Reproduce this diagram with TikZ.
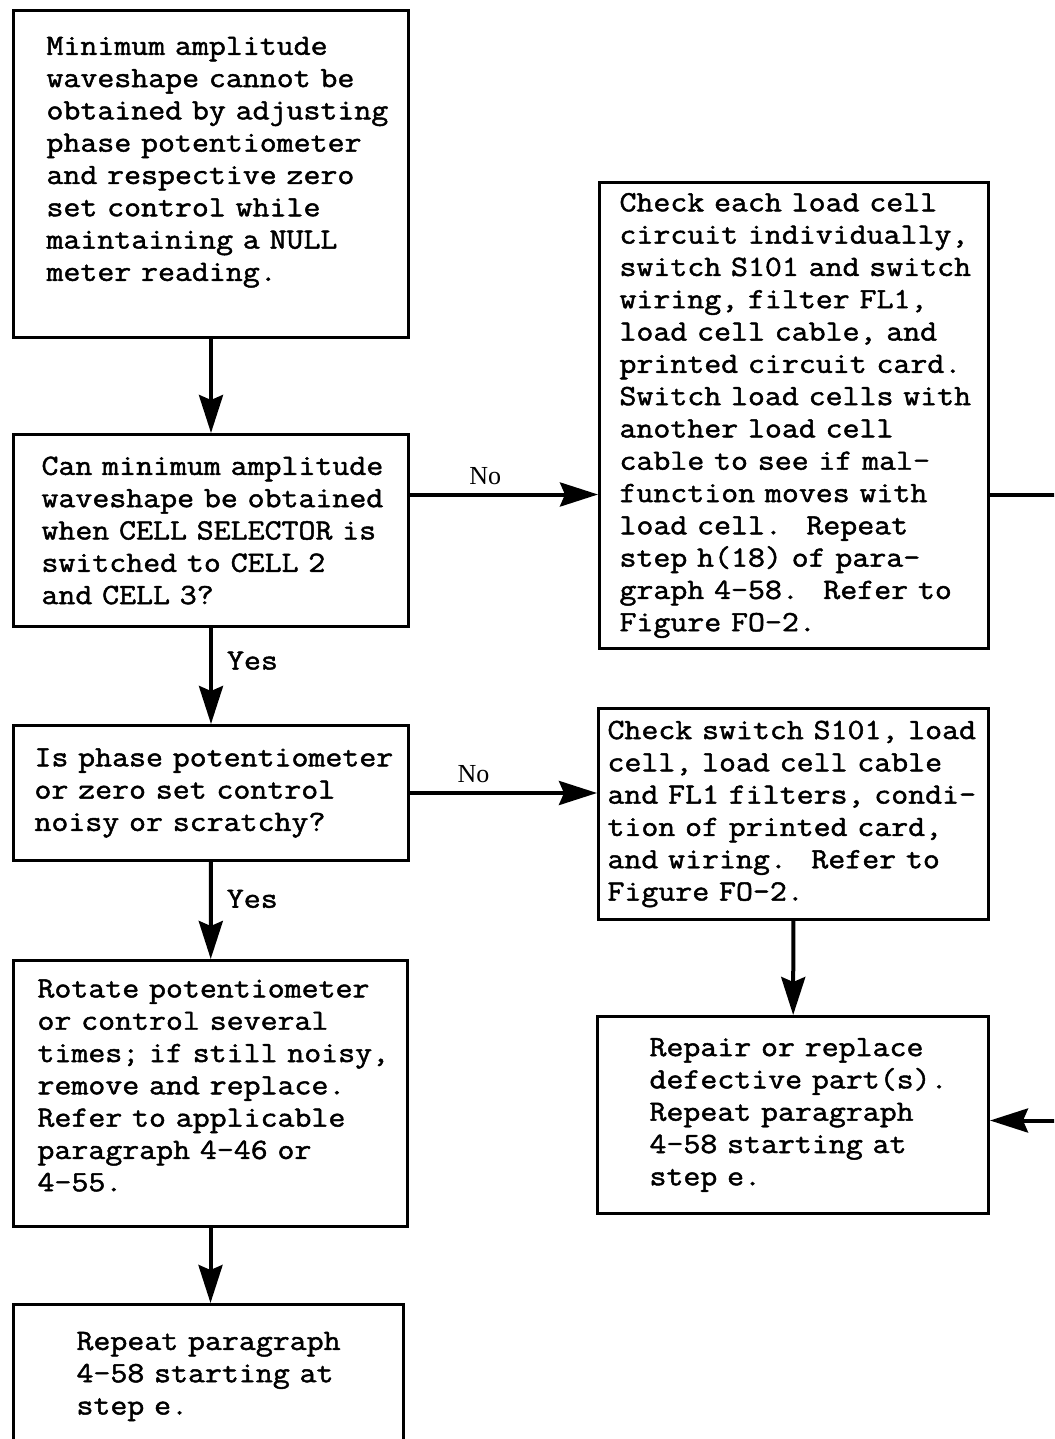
\documentclass[tikz,border=0pt]{standalone}
\usepackage{fontspec}
\usepackage{tikz}
\usetikzlibrary{arrows.meta,positioning}
\newfontfamily\twfont[FakeBold=1.6,FakeStretch=1.12]{Latin Modern Mono}
\newfontfamily\lblfont{Liberation Serif}
\def\tw{\twfont\fontsize{14.7}{16.15}\selectfont}
\def\pad#1{\leftskip=#1\relax}

\begin{document}
\begin{tikzpicture}[x=0.5pt,y=-0.5pt,
    box/.style={draw,line width=1.5pt,rectangle,inner xsep=0pt,inner ysep=0pt,
        align=left,font=\tw,anchor=north west},
    arr/.style={line width=2pt,-{Stealth[length=19pt,width=12pt,inset=2.5pt]}},
    yeslbl/.style={font=\tw,inner sep=0pt},
    nolbl/.style={font=\lblfont\fontsize{13}{15}\selectfont,inner sep=0pt}]
    \useasboundingbox (0,0) rectangle (1054,1439);
    \clip (0,0) rectangle (1054,1439);
    % left column
    \node[box,text width=197.5pt,minimum height=163.5pt] (start) at (12,9)
        {\pad{16.5pt}Minimum amplitude\\waveshape cannot be\\obtained by adjusting\\phase potentiometer\\
         and respective zero\\set control while\\maintaining a NULL\\meter reading.\\[-1pt]\mbox{}\par};
    \node[box,text width=197.5pt,minimum height=96pt] (cellq) at (12,433)
        {\pad{14pt}Can minimum amplitude\\waveshape be obtained\\when CELL SELECTOR is\\switched to CELL 2\\and CELL 3?\par};
    \node[box,text width=197.5pt,minimum height=67.5pt] (noiseq) at (12,724)
        {\pad{10.5pt}Is phase potentiometer\\or zero set control\\noisy or scratchy?\par};
    \node[box,text width=197pt,minimum height=133pt] (rotate) at (12,959)
        {\pad{12pt}Rotate potentiometer\\or control several\\times; if still noisy,\\remove and replace.\\
         Refer to applicable\\paragraph 4-46 or\\4-55.\\[-8pt]\mbox{}\par};
    \node[box,text width=195pt,minimum height=72pt] (repeatl) at (12,1303)
        {\pad{31.5pt}Repeat paragraph\\4-58 starting at\\step e.\par};
    % right column
    \node[box,text width=194.5pt,minimum height=233pt] (checkall) at (598,181)
        {\pad{10pt}Check each load cell\\circuit individually,\\switch S101 and switch\\wiring, filter FL1,\\
         load cell cable, and\\printed circuit card.\\Switch load cells with\\another load cell\\
         cable to see if mal-\\function moves with\\load cell.~ Repeat\\step h(18) of para-\\
         graph 4-58.~ Refer to\\Figure FO-2.\par};
    \node[box,text width=195pt,minimum height=105.5pt] (checksw) at (597,707)
        {\pad{4.5pt}Check switch S101, load\\cell, load cell cable\\and FL1 filters, condi-\\
         tion of printed card,\\and wiring.~ Refer to\\Figure FO-2.\par};
    \node[box,text width=195.5pt,minimum height=98.5pt] (repair) at (596,1015)
        {\pad{26pt}Repair or replace\\defective part(s).\\Repeat paragraph\\4-58 starting at\\step e.\par};
    % connectors
    \coordinate (noline) at ([yshift=18pt]cellq.east);
    \draw[arr] (start) -- (cellq);
    \draw[arr] (cellq) -- node[yeslbl,pos=.34,right=7pt]{Yes} (noiseq);
    \draw[arr] (noiseq) -- node[yeslbl,pos=.38,right=7pt]{Yes} (rotate);
    \draw[arr] (rotate.south) -- (rotate.south |- repeatl.north);
    \draw[arr] (noline) -- node[nolbl,pos=.40,above=4pt]{No} (noline -| checkall.west);
    \draw[arr] (noiseq.east) -- node[nolbl,pos=.34,above=4pt]{No} (noiseq.east -| checksw.west);
    \draw[arr] (checksw) -- (repair);
    \draw[arr] (noline -| checkall.east) -- ++(60pt,0) |- ([yshift=-2.75pt]repair.east);
\end{tikzpicture}
\end{document}
